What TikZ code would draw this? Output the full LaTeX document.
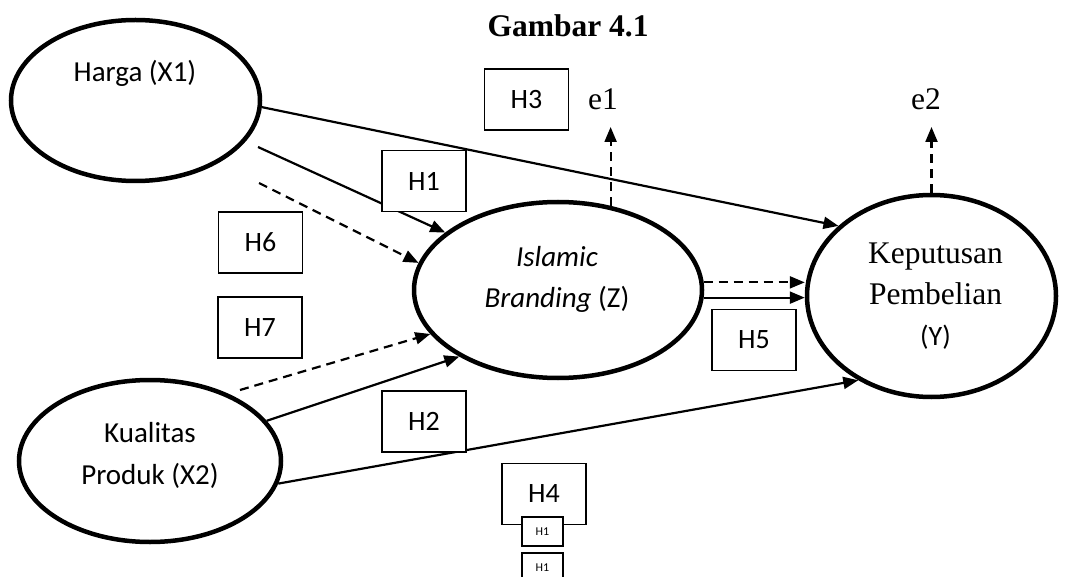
\documentclass[tikz,border=0pt]{standalone}
\usepackage{fontspec}
\setmainfont{Liberation Serif}
\newfontfamily\calibri{Carlito}
\usetikzlibrary{arrows.meta,shapes.geometric}

\tikzset{
  var/.style={ellipse,draw,line width=4.5pt,inner sep=0pt},
  hyp/.style={draw,fill=white,line width=1.4pt,inner sep=0pt,
    minimum width=84pt,minimum height=61pt,font=\calibri\fontsize{28}{34}\selectfont},
  hypsmall/.style={hyp,minimum width=41pt,minimum height=29pt,
    font=\calibri\fontsize{12}{14}\selectfont},
  link/.style={line width=2.2pt,-{Triangle[length=15pt,width=12pt]}},
  indlink/.style={link,dash pattern=on 9pt off 6pt},
}

\begin{document}
\begin{tikzpicture}[x=1pt,y=-1pt]
    \useasboundingbox (0,0) rectangle (1065,577);
    % Variables
    \node[var,minimum width=249pt,minimum height=161pt] (harga) at (135.5,100.5) {};
    \node[var,minimum width=262pt,minimum height=162pt] (kualitas) at (150,461) {};
    \node[var,minimum width=288pt,minimum height=176pt] (islamic) at (558,290) {};
    \node[var,minimum width=249pt,minimum height=202pt] (kep) at (931.5,296) {};
    % Labels
    \node[anchor=base,font=\bfseries\fontsize{31.5}{38}\selectfont] (judul) at (568,37) {Gambar 4.1};
    \node[anchor=base,font=\calibri\fontsize{29}{41}\selectfont] (hargaLbl) at (135,82) {Harga (X1)};
    \node[align=center,font=\calibri\fontsize{29}{42}\selectfont] (kualitasLbl) at (150,455) {Kualitas\\Produk (X2)};
    \node[align=center,font=\calibri\fontsize{29}{41}\selectfont] (islamicLbl) at (557,279.5) {{\itshape Islamic}\\{\itshape Branding} (Z)};
    \node[align=center,font=\fontsize{31.5}{41}\selectfont] (kepLbl) at (935.5,296.5) {Keputusan\\Pembelian\\{\calibri\fontsize{28}{41}\selectfont (Y)}};
    \node[anchor=base,font=\fontsize{31.5}{38}\selectfont] (e1) at (603,110) {e1};
    \node[anchor=base,font=\fontsize{31.5}{38}\selectfont] (e2) at (926,110) {e2};
    % Free ends
    \coordinate (hB) at (258,147);
    \coordinate (hC) at (259,183);
    \coordinate (kA) at (240,390);
    \coordinate (e1tip) at (610,127);
    % Arrows
    \draw[link] (harga.-3) -- (kep.143);
    \draw[link] (hB) -- (islamic.153);
    \draw[indlink] (hC) -- (islamic.169);
    \draw[indlink] (kA) -- (islamic.199);
    \draw[link] (kualitas.19) -- (islamic.214);
    \draw[link] (kualitas.-10) -- (kep.229);
    \draw[indlink] (islamic.3) -- (islamic.3 -| kep.west);
    \draw[link] (islamic.-3) -- (islamic.-3 -| kep.west);
    \draw[indlink] (islamic.58) -- (islamic.58 |- e1tip);
    \draw[indlink] (kep.north) -- (kep.north |- e1tip);
    % Hypotheses
    \node[hyp] (h3) at (526.5,99.5) {H3};
    \node[hyp] (h1) at (424,181) {H1};
    \node[hyp] (h6) at (260.5,242.5) {H6};
    \node[hyp] (h7) at (260,327.5) {H7};
    \node[hyp] (h2) at (424,421.5) {H2};
    \node[hyp] (h5) at (754,340) {H5};
    \node[hyp] (h4) at (544,494) {H4};
    \node[hypsmall] (h1a) at (542.5,531.5) {H1};
    \node[hypsmall] (h1b) at (542.5,567.5) {H1};
\end{tikzpicture}
\end{document}
